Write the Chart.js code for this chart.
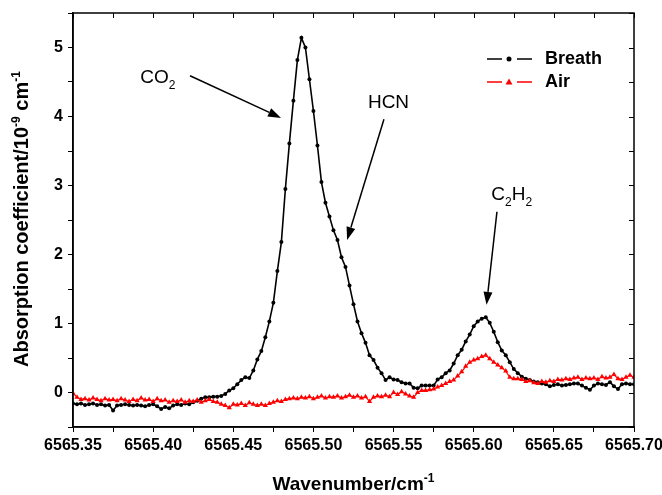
<!DOCTYPE html>
<html>
<head>
<meta charset="utf-8">
<title>Breath vs Air absorption</title>
<script src="https://cdn.jsdelivr.net/npm/chart.js@4.4.0/dist/chart.umd.min.js"></script>
<style>
  html, body { margin: 0; padding: 0; background: #fff; }
  canvas { display: block; }
</style>
</head>
<body>
<canvas id="spectrum" width="662" height="495"></canvas>
<script>
// wavenumber grid, cm-1
const wavenumbers = [
  6565.3500, 6565.3525, 6565.3550, 6565.3575, 6565.3600, 6565.3625, 6565.3650, 6565.3675, 6565.3700, 6565.3725,
  6565.3750, 6565.3775, 6565.3800, 6565.3825, 6565.3850, 6565.3875, 6565.3900, 6565.3925, 6565.3950, 6565.3975,
  6565.4000, 6565.4025, 6565.4050, 6565.4075, 6565.4100, 6565.4125, 6565.4150, 6565.4175, 6565.4200, 6565.4225,
  6565.4250, 6565.4275, 6565.4300, 6565.4325, 6565.4350, 6565.4375, 6565.4400, 6565.4425, 6565.4450, 6565.4475,
  6565.4500, 6565.4525, 6565.4550, 6565.4575, 6565.4600, 6565.4625, 6565.4650, 6565.4675, 6565.4700, 6565.4725,
  6565.4750, 6565.4775, 6565.4800, 6565.4825, 6565.4850, 6565.4875, 6565.4900, 6565.4925, 6565.4950, 6565.4975,
  6565.5000, 6565.5025, 6565.5050, 6565.5075, 6565.5100, 6565.5125, 6565.5150, 6565.5175, 6565.5200, 6565.5225,
  6565.5250, 6565.5275, 6565.5300, 6565.5325, 6565.5350, 6565.5375, 6565.5400, 6565.5425, 6565.5450, 6565.5475,
  6565.5500, 6565.5525, 6565.5550, 6565.5575, 6565.5600, 6565.5625, 6565.5650, 6565.5675, 6565.5700, 6565.5725,
  6565.5750, 6565.5775, 6565.5800, 6565.5825, 6565.5850, 6565.5875, 6565.5900, 6565.5925, 6565.5950, 6565.5975,
  6565.6000, 6565.6025, 6565.6050, 6565.6075, 6565.6100, 6565.6125, 6565.6150, 6565.6175, 6565.6200, 6565.6225,
  6565.6250, 6565.6275, 6565.6300, 6565.6325, 6565.6350, 6565.6375, 6565.6400, 6565.6425, 6565.6450, 6565.6475,
  6565.6500, 6565.6525, 6565.6550, 6565.6575, 6565.6600, 6565.6625, 6565.6650, 6565.6675, 6565.6700, 6565.6725,
  6565.6750, 6565.6775, 6565.6800, 6565.6825, 6565.6850, 6565.6875, 6565.6900, 6565.6925, 6565.6950, 6565.6975,
  6565.7000
];

// absorption coefficient, 1e-9 cm-1
const breath = [
  -0.16, -0.17, -0.16, -0.18, -0.17, -0.16, -0.18, -0.17, -0.19, -0.18,
  -0.26, -0.19, -0.18, -0.17, -0.18, -0.19, -0.18, -0.19, -0.20, -0.18,
  -0.17, -0.20, -0.24, -0.21, -0.23, -0.19, -0.17, -0.18, -0.16, -0.17,
  -0.14, -0.12, -0.09, -0.07, -0.07, -0.06, -0.06, -0.05, -0.02, 0.03,
  0.06, 0.12, 0.18, 0.22, 0.21, 0.32, 0.48, 0.60, 0.80, 1.03,
  1.30, 1.76, 2.18, 2.95, 3.61, 4.23, 4.82, 5.14, 5.00, 4.54,
  4.08, 3.58, 3.05, 2.75, 2.55, 2.35, 2.21, 1.96, 1.82, 1.55,
  1.28, 1.03, 0.86, 0.72, 0.54, 0.47, 0.36, 0.28, 0.18, 0.22,
  0.19, 0.18, 0.15, 0.13, 0.13, 0.07, 0.06, 0.10, 0.10, 0.10,
  0.10, 0.19, 0.22, 0.28, 0.32, 0.42, 0.54, 0.62, 0.74, 0.84,
  0.96, 1.03, 1.07, 1.09, 1.01, 0.88, 0.73, 0.61, 0.54, 0.44,
  0.34, 0.28, 0.23, 0.20, 0.18, 0.16, 0.15, 0.13, 0.12, 0.09,
  0.11, 0.12, 0.10, 0.11, 0.12, 0.13, 0.13, 0.10, 0.07, 0.04,
  0.10, 0.13, 0.12, 0.11, 0.15, 0.09, 0.05, 0.12, 0.13, 0.12,
  0.12
];

const air = [
  -0.01, -0.07, -0.10, -0.09, -0.11, -0.08, -0.10, -0.12, -0.09, -0.11,
  -0.10, -0.12, -0.09, -0.11, -0.13, -0.10, -0.12, -0.08, -0.11, -0.10,
  -0.13, -0.09, -0.12, -0.11, -0.14, -0.12, -0.13, -0.11, -0.14, -0.12,
  -0.13, -0.11, -0.14, -0.12, -0.10, -0.13, -0.14, -0.17, -0.19, -0.22,
  -0.17, -0.18, -0.16, -0.19, -0.15, -0.17, -0.19, -0.17, -0.19, -0.16,
  -0.14, -0.12, -0.13, -0.10, -0.09, -0.08, -0.09, -0.07, -0.08, -0.06,
  -0.09, -0.07, -0.05, -0.08, -0.06, -0.07, -0.05, -0.08, -0.06, -0.04,
  -0.07, -0.05, -0.08, -0.06, -0.13, -0.07, -0.05, -0.06, -0.04, -0.06,
  0.00, -0.03, 0.01, -0.02, -0.05, -0.07, 0.00, 0.03, 0.03, 0.04,
  0.05, 0.08, 0.10, 0.13, 0.16, 0.18, 0.24, 0.30, 0.38, 0.44,
  0.47, 0.49, 0.52, 0.54, 0.49, 0.44, 0.40, 0.36, 0.31, 0.22,
  0.20, 0.20, 0.19, 0.16, 0.17, 0.14, 0.13, 0.16, 0.15, 0.17,
  0.16, 0.19, 0.18, 0.20, 0.19, 0.21, 0.22, 0.19, 0.21, 0.20,
  0.21, 0.19, 0.23, 0.21, 0.22, 0.26, 0.20, 0.19, 0.22, 0.25,
  0.22
];

const seriesNames = ['Breath', 'Air'];
const seriesColors = ['#000000', '#ff0000'];
const xRange = [6565.35, 6565.70];
const yRange = [-0.5, 5.5];

// peak labels: [text pieces, label pos (x,y), arrow start, arrow tip] in data units
const peakLabels = [
  { parts: [['CO', 0], ['2', 1]], at: [6565.392, 4.49], from: [6565.423, 4.59], to: [6565.4798, 3.98] },
  { parts: [['HCN', 0]], at: [6565.534, 4.12], from: [6565.544, 3.96], to: [6565.521, 2.21] },
  { parts: [['C', 0], ['2', 1], ['H', 0], ['2', 1]], at: [6565.611, 2.79], from: [6565.6145, 2.62], to: [6565.608, 1.27] }
];

const FONT = '"Liberation Sans", Arial, sans-serif';

function toPoints(xs, ys) {
  return xs.map((x, i) => ({ x: x, y: ys[i] }));
}

function drawRich(ctx, parts, x, y, size, weight, shift) {
  // parts: [text, mode] mode 0 normal, 1 subscript, -1 superscript
  let cx = x;
  parts.forEach(([txt, mode]) => {
    const s = mode === 0 ? size : Math.round(size * 0.62);
    ctx.font = weight + ' ' + s + 'px ' + FONT;
    ctx.fillText(txt, cx, y + mode * shift);
    cx += ctx.measureText(txt).width;
  });
  return cx - x;
}

function richWidth(ctx, parts, size, weight) {
  let w = 0;
  parts.forEach(([txt, mode]) => {
    const s = mode === 0 ? size : Math.round(size * 0.62);
    ctx.font = weight + ' ' + s + 'px ' + FONT;
    w += ctx.measureText(txt).width;
  });
  return w;
}

function arrow(ctx, x1, y1, x2, y2) {
  const ang = Math.atan2(y2 - y1, x2 - x1);
  const len = 13, half = 4.5;
  const bx = x2 - len * Math.cos(ang), by = y2 - len * Math.sin(ang);
  ctx.beginPath();
  ctx.moveTo(x1, y1);
  ctx.lineTo(bx, by);
  ctx.stroke();
  ctx.beginPath();
  ctx.moveTo(x2, y2);
  ctx.lineTo(bx + half * Math.sin(ang), by - half * Math.cos(ang));
  ctx.lineTo(bx - half * Math.sin(ang), by + half * Math.cos(ang));
  ctx.closePath();
  ctx.fill();
}

function marker(ctx, kind, x, y, color) {
  ctx.fillStyle = color;
  ctx.beginPath();
  if (kind === 'circle') {
    ctx.arc(x, y, 2.5, 0, Math.PI * 2);
  } else {
    ctx.moveTo(x, y - 3.5);
    ctx.lineTo(x + 3.5, y + 2.5);
    ctx.lineTo(x - 3.5, y + 2.5);
    ctx.closePath();
  }
  ctx.fill();
}

const decorations = {
  id: 'decorations',
  afterDraw(chart) {
    const { ctx, chartArea: a, scales: { x, y } } = chart;
    ctx.save();
    ctx.strokeStyle = '#000';
    ctx.fillStyle = '#000';

    // box frame
    ctx.lineWidth = 1.5;
    ctx.strokeRect(a.left, a.top, a.right - a.left, a.bottom - a.top);

    // inward ticks on top and right
    ctx.lineWidth = 1;
    ctx.beginPath();
    y.ticks.forEach(t => {
      const py = Math.round(y.getPixelForValue(t.value)) + 0.5;
      ctx.moveTo(a.right - 5, py);
      ctx.lineTo(a.right, py);
    });
    x.ticks.forEach(t => {
      const px = Math.round(x.getPixelForValue(t.value)) + 0.5;
      ctx.moveTo(px, a.top);
      ctx.lineTo(px, a.top + 5);
    });
    ctx.stroke();

    // axis titles
    ctx.textBaseline = 'alphabetic';
    ctx.textAlign = 'left';
    const xt = [['Wavenumber/cm', 0], ['-1', -1]];
    const xw = richWidth(ctx, xt, 19, 'bold');
    drawRich(ctx, xt, (a.left + a.right) / 2 - xw / 2, 490, 19, 'bold', 8);

    const yt = [['Absorption coefficient/10', 0], ['-9', -1], [' cm', 0], ['-1', -1]];
    ctx.save();
    ctx.translate(28, 367);
    ctx.rotate(-Math.PI / 2);
    drawRich(ctx, yt, 0, 0, 20, 'bold', 8);
    ctx.restore();

    // peak labels with arrows
    ctx.lineWidth = 1.5;
    peakLabels.forEach(p => {
      const lx = x.getPixelForValue(p.at[0]);
      const ly = y.getPixelForValue(p.at[1]);
      drawRich(ctx, p.parts, lx, ly, 19, 'normal', 6);
      arrow(ctx,
        x.getPixelForValue(p.from[0]), y.getPixelForValue(p.from[1]),
        x.getPixelForValue(p.to[0]), y.getPixelForValue(p.to[1]));
    });

    // legend
    const kinds = ['circle', 'triangle'];
    seriesNames.forEach((name, i) => {
      const ly = a.top + 46 + i * 23;
      const x0 = a.right - 147;
      ctx.strokeStyle = seriesColors[i];
      ctx.lineWidth = 1.5;
      ctx.beginPath();
      ctx.moveTo(x0, ly); ctx.lineTo(x0 + 15, ly);
      ctx.moveTo(x0 + 30, ly); ctx.lineTo(x0 + 45, ly);
      ctx.stroke();
      marker(ctx, kinds[i], x0 + 22, ly, seriesColors[i]);
      ctx.fillStyle = '#000';
      ctx.font = 'bold 18px ' + FONT;
      ctx.textBaseline = 'middle';
      ctx.fillText(name, x0 + 58, ly);
      ctx.textBaseline = 'alphabetic';
    });
    ctx.restore();
  }
};

new Chart(document.getElementById('spectrum'), {
  type: 'line',
  data: {
    datasets: [
      {
        label: seriesNames[0],
        data: toPoints(wavenumbers, breath),
        borderColor: seriesColors[0],
        backgroundColor: seriesColors[0],
        borderWidth: 1.6,
        pointStyle: 'circle',
        pointRadius: 2,
        pointBorderWidth: 0,
        tension: 0,
        order: 1
      },
      {
        label: seriesNames[1],
        data: toPoints(wavenumbers, air),
        borderColor: seriesColors[1],
        backgroundColor: seriesColors[1],
        borderWidth: 1.2,
        pointStyle: 'triangle',
        pointRadius: 3,
        pointBorderWidth: 0,
        tension: 0,
        order: 0
      }
    ]
  },
  options: {
    responsive: false,
    animation: false,
    layout: { padding: { left: 0, top: 13, right: 28, bottom: 0 } },
    plugins: {
      legend: { display: false },
      tooltip: { enabled: false }
    },
    scales: {
      x: {
        type: 'linear',
        min: xRange[0],
        max: xRange[1],
        afterFit: s => { s.height = 68; s.paddingLeft = 0; s.paddingRight = 0; },
        grid: { drawOnChartArea: false, drawTicks: true, tickLength: 5, color: '#000', lineWidth: 1 },
        border: { color: '#000', width: 1.5 },
        ticks: {
          stepSize: 0.025,
          autoSkip: false,
          maxRotation: 0,
          padding: 4,
          color: '#000',
          font: { family: FONT, size: 16, weight: 'bold' },
          callback: v => (Math.round(v * 1000) % 50 === 0 ? v.toFixed(2) : '')
        }
      },
      y: {
        min: yRange[0],
        max: yRange[1],
        afterFit: s => { s.width = 73; s.paddingTop = 0; s.paddingBottom = 0; },
        grid: { drawOnChartArea: false, drawTicks: true, tickLength: 5, color: '#000', lineWidth: 1 },
        border: { color: '#000', width: 1.5 },
        ticks: {
          stepSize: 0.5,
          autoSkip: false,
          padding: 5,
          color: '#000',
          font: { family: FONT, size: 16, weight: 'bold' },
          callback: v => (Math.abs(v - Math.round(v)) < 1e-6 ? String(Math.round(v)) : '')
        }
      }
    }
  },
  plugins: [decorations]
});
</script>
</body>
</html>
